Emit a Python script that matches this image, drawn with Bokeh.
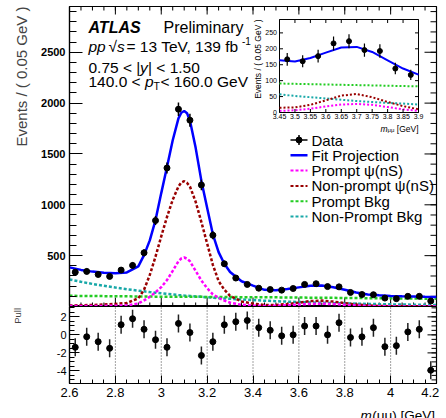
import numpy as np
from bokeh.plotting import figure
from bokeh.layouts import column
from bokeh.models import Range1d, FixedTicker, Title, Label
from bokeh.core.properties import value
from bokeh.embed import file_html
from bokeh.resources import INLINE

# ------------------------------------------------------------------ data
bin_centers = [2.625, 2.675, 2.725, 2.775, 2.825, 2.875, 2.925, 2.975,
               3.025, 3.075, 3.125, 3.175, 3.225, 3.275, 3.325, 3.375,
               3.425, 3.475, 3.525, 3.575, 3.625, 3.675, 3.725, 3.775,
               3.825, 3.875, 3.925, 3.975, 4.025, 4.075, 4.125, 4.175]
counts = [338, 345, 315, 296, 358, 404, 528, 845,
          1362, 1940, 1832, 1195, 701, 420, 280, 217,
          180, 167, 161, 177, 217, 224, 196, 193,
          138, 118, 116, 83, 77, 100, 100, 54]
count_errors = [27, 28, 27, 26, 28, 30, 34, 44,
                55, 66, 64, 52, 40, 31, 25, 22,
                20, 20, 19, 20, 22, 22, 21, 21,
                18, 16, 16, 14, 13, 15, 15, 11]
pulls = [-1.38, -0.21, -0.76, -1.49, 1.13, 1.79, 0.62, -0.54,
         -1.38, 1.27, 0.26, -2.29, -0.76, 1.12, 1.46, 1.60,
         0.80, 0.51, -0.11, 0.00, 0.98, 0.98, 0.00, 1.35,
         -0.29, -0.22, 0.80, -1.31, -1.20, 0.33, 0.62, -3.93]
pull_errors = [1.0] * 32

curve_x = [2.60, 2.65, 2.70, 2.75, 2.80, 2.85, 2.90, 2.925, 2.95, 2.975,
           3.00, 3.025, 3.05, 3.075, 3.0875, 3.10, 3.1125, 3.125, 3.15, 3.175,
           3.20, 3.225, 3.25, 3.275, 3.30, 3.35, 3.40, 3.45, 3.50, 3.55,
           3.60, 3.65, 3.70, 3.75, 3.80, 3.85, 3.90, 3.95, 4.00, 4.05,
           4.10, 4.15, 4.20]
fit_total = [385, 360, 343, 332, 327, 335, 395, 505, 650, 850,
             1115, 1371, 1635, 1850, 1905, 1922, 1900, 1828, 1560, 1235,
             970, 710, 535, 420, 340, 248, 205, 164, 160, 171,
             188, 204, 206, 190, 164, 138, 119, 110, 104, 100,
             98, 95, 93]
prompt_psi = [4, 4, 5, 6, 8, 11, 30, 60, 95, 140,
              190, 260, 350, 445, 472, 482, 470, 445, 350, 255,
              180, 120, 85, 58, 38, 17, 9, 5, 7, 12,
              19, 25, 27, 24, 17, 10, 5, 2, 1, 1,
              1, 1, 1]
nonprompt_psi = [10, 12, 15, 20, 25, 35, 80, 165, 310, 490,
                 690, 880, 1050, 1180, 1220, 1232, 1215, 1180, 1030, 830,
                 620, 410, 250, 165, 105, 50, 28, 15, 16, 24,
                 38, 53, 58, 48, 33, 20, 10, 5, 3, 2,
                 2, 1, 1]
prompt_bkg = [105, 104, 103, 102, 101, 100, 99, 98, 98, 97,
              97, 97, 96, 96, 96, 96, 95, 95, 95, 95,
              94, 94, 94, 93, 93, 92, 92, 91, 90, 89,
              88, 87, 86, 85, 84, 83, 82, 81, 80, 79,
              78, 77, 76]
nonprompt_bkg = [266, 243, 222, 203, 186, 170, 155, 149, 142, 136,
                 130, 124, 119, 113, 111, 108, 106, 104, 99, 95,
                 91, 87, 83, 79, 76, 69, 63, 57, 52, 48,
                 44, 40, 36, 33, 30, 28, 25, 23, 21, 19,
                 18, 16, 15]

x_ticks = [2.6, 2.8, 3.0, 3.2, 3.4, 3.6, 3.8, 4.0, 4.2]
x_tick_labels = ["2.6", "2.8", "3", "3.2", "3.4", "3.6", "3.8", "4", "4.2"]
main_y_ticks = [500, 1000, 1500, 2000, 2500]
pull_y_ticks = [-4, -2, 0, 2]
pull_y_labels = ["-4", "-2", "0", "2"]
inset_x_ticks = [3.45, 3.5, 3.55, 3.6, 3.65, 3.7, 3.75, 3.8, 3.85, 3.9]
inset_x_labels = ["3.45", "3.5", "3.55", "3.6", "3.65", "3.7", "3.75", "3.8", "3.85", "3.9"]
inset_y_ticks = [0, 50, 100, 150, 200, 250]
inset_y_labels = ["0", "50", "100", "150", "200", "250"]

series_labels = ["Data", "Fit Projection", "Prompt \u03c8(nS)",
                 "Non-prompt \u03c8(nS)", "Prompt Bkg", "Non-Prompt Bkg"]

# ------------------------------------------------------------------ style / layout
FONT = "Liberation Sans"
C_FIT = "#0000ff"
C_PPSI = "#ff00ff"
C_NPSI = "#990000"
C_PBKG = "#22cc22"
C_NBKG = "#18a8a8"
DASH = "3 2"

W = 446
LEFT, RIGHT = 69, 10
FRAME_W = W - LEFT - RIGHT          # 367
TOP = 6
MAIN_H = 300
PULL_H = 77
PULL_AXIS = 19
STRIP_H = 418 - (TOP + MAIN_H) - (PULL_H + PULL_AXIS)

X0, X1 = 2.6, 4.2
Y0, Y1 = 0, 2950
PY0, PY1 = -5.4, 3.15

FL, FT = LEFT, TOP + 1      # reference frame top sits at y = 7


def rx(px):
    return X0 + (px - FL) * (X1 - X0) / FRAME_W


def ry(py):
    return Y0 + (FT + MAIN_H - py) * (Y1 - Y0) / MAIN_H


def style_axis(ax, major_in, minor_in, size="11px", bold=False, standoff=3):
    ax.major_tick_in = major_in
    ax.major_tick_out = 0
    ax.minor_tick_in = minor_in
    ax.minor_tick_out = 0
    ax.axis_line_color = "black"
    ax.axis_line_width = 1.2
    ax.major_tick_line_color = "black"
    ax.minor_tick_line_color = "black"
    ax.major_tick_line_width = 1
    ax.minor_tick_line_width = 1
    ax.major_label_text_font = FONT
    ax.major_label_text_font_size = size
    ax.major_label_text_font_style = "bold" if bold else "normal"
    ax.major_label_text_color = "black"
    ax.major_label_standoff = standoff


def side_ticks(fig, where, ticks, minor, major_len, minor_len, ux, uy, lo, hi):
    """inward tick marks on a side of the frame that carries no labels"""
    for vals, ln in ((ticks, major_len), (minor, minor_len)):
        v = np.array(vals, dtype=float)
        n = len(v)
        if where == "top":
            fig.segment(x0=v, y0=np.full(n, hi), x1=v, y1=np.full(n, hi - ln * uy),
                        line_color="black", line_width=1)
        elif where == "bottom":
            fig.segment(x0=v, y0=np.full(n, lo), x1=v, y1=np.full(n, lo + ln * uy),
                        line_color="black", line_width=1)
        elif where == "right":
            fig.segment(x0=np.full(n, hi), y0=v, x1=np.full(n, hi - ln * ux), y1=v,
                        line_color="black", line_width=1)


x_minor = [round(v, 3) for v in np.arange(2.6, 4.2001, 0.05)]
main_y_minor = list(range(100, 2950, 100))
pull_y_minor = [round(v, 2) for v in np.arange(-5.0, 3.01, 0.5)]

xr = Range1d(X0, X1)

# ------------------------------------------------------------------ main panel
p = figure(width=W, height=TOP + MAIN_H, x_range=xr, y_range=Range1d(Y0, Y1),
           output_backend="svg", toolbar_location=None, x_axis_location=None,
           min_border_left=LEFT, min_border_right=RIGHT,
           min_border_top=TOP, min_border_bottom=0)
p.outline_line_color = "black"
p.outline_line_width = 1.2
p.grid.visible = False
p.background_fill_color = "white"
p.border_fill_color = "white"

p.yaxis.ticker = FixedTicker(ticks=main_y_ticks, minor_ticks=main_y_minor)
style_axis(p.yaxis[0], 13, 7, size="11px", bold=True, standoff=4)

mux = (X1 - X0) / FRAME_W
muy = (Y1 - Y0) / MAIN_H
side_ticks(p, "bottom", x_ticks, x_minor, 9, 4, mux, muy, Y0, Y1)
side_ticks(p, "top", x_ticks, x_minor, 8, 4, mux, muy, Y0, Y1)
side_ticks(p, "right", main_y_ticks, main_y_minor, 12, 6, mux, muy, X0, X1)

p.add_layout(Title(text="Events / ( 0.05 GeV )", align="right",
                   text_font=FONT, text_font_size="15px", text_font_style="normal",
                   standoff=18, offset=0), "left")

p.line(curve_x, nonprompt_bkg, line_color=C_NBKG, line_width=2.5, line_dash=DASH)
p.line(curve_x, prompt_bkg, line_color=C_PBKG, line_width=2.5, line_dash=DASH)
p.line(curve_x, nonprompt_psi, line_color=C_NPSI, line_width=2.5, line_dash=DASH)
p.line(curve_x, prompt_psi, line_color=C_PPSI, line_width=2.5, line_dash=DASH)
p.line(curve_x, fit_total, line_color=C_FIT, line_width=2.5)

cnt = np.array(counts, dtype=float)
err = np.array(count_errors, dtype=float)
p.segment(x0=bin_centers, y0=cnt - err, x1=bin_centers, y1=cnt + err,
          line_color="black", line_width=1.5)
p.scatter(bin_centers, counts, size=6, color="black")

# ---- inset drawn with extra ranges inside the main frame
INX0, INX1 = 3.45, 3.9
INY0, INY1 = 0, 292
IN_L, IN_R, IN_T, IN_B = 279.0, 418.0, 20.0, 113.0   # inset frame, reference pixels
fxl = (IN_L - FL) / FRAME_W
fxr = (IN_R - FL) / FRAME_W
fyb = (FT + MAIN_H - IN_B) / MAIN_H
fyt = (FT + MAIN_H - IN_T) / MAIN_H
sx = (INX1 - INX0) / (fxr - fxl)
sy = (INY1 - INY0) / (fyt - fyb)
p.extra_x_ranges = {"ix": Range1d(INX0 - fxl * sx, INX0 - fxl * sx + sx)}
p.extra_y_ranges = {"iy": Range1d(INY0 - fyb * sy, INY0 - fyb * sy + sy)}
ux = sx / FRAME_W
uy = sy / MAIN_H
IR = dict(x_range_name="ix", y_range_name="iy")

p.quad(left=[INX0], right=[INX1], bottom=[INY0], top=[INY1],
       fill_color="white", line_color="black", line_width=1, **IR)

cx = np.array(curve_x)
m = (cx >= INX0 - 1e-9) & (cx <= INX1 + 1e-9)
for arr, col in [(nonprompt_bkg, C_NBKG), (prompt_bkg, C_PBKG),
                 (nonprompt_psi, C_NPSI), (prompt_psi, C_PPSI)]:
    p.line(cx[m], np.array(arr)[m], line_color=col, line_width=2, line_dash="2 2", **IR)
p.line(cx[m], np.array(fit_total)[m], line_color=C_FIT, line_width=2, **IR)

bc = np.array(bin_centers)
mi = (bc > INX0) & (bc < INX1)
p.segment(x0=bc[mi], y0=(cnt - err)[mi], x1=bc[mi], y1=(cnt + err)[mi],
          line_color="black", line_width=1.2, **IR)
p.scatter(bc[mi], cnt[mi], size=5, color="black", **IR)

ixt = np.array(inset_x_ticks)
iyt = np.array(inset_y_ticks, dtype=float)
nx, ny = len(ixt), len(iyt)
p.segment(x0=ixt, y0=np.full(nx, INY0), x1=ixt, y1=np.full(nx, INY0 + 3.5 * uy),
          line_color="black", line_width=1, **IR)
p.segment(x0=ixt, y0=np.full(nx, INY1), x1=ixt, y1=np.full(nx, INY1 - 3.5 * uy),
          line_color="black", line_width=1, **IR)
p.segment(x0=np.full(ny, INX0), y0=iyt, x1=np.full(ny, INX0 + 3.5 * ux), y1=iyt,
          line_color="black", line_width=1, **IR)
p.segment(x0=np.full(ny, INX1), y0=iyt, x1=np.full(ny, INX1 - 3.5 * ux), y1=iyt,
          line_color="black", line_width=1, **IR)
p.text(x=ixt, y=np.full(nx, INY0 - 1.5 * uy), text=inset_x_labels,
       text_font=value(FONT), text_font_size="7px", text_align="center",
       text_baseline="top", text_color="black", **IR)
p.text(x=np.full(ny, INX0 - 2.5 * ux), y=iyt, text=inset_y_labels,
       text_font=value(FONT), text_font_size="7px", text_align="right",
       text_baseline="middle", text_color="black", **IR)
p.text(x=[INX0 - 22 * ux], y=[INY1], text=["Events / ( 0.05 GeV )"], angle=np.pi / 2,
       text_font=value(FONT), text_font_size="8.5px", text_align="right",
       text_baseline="middle", text_color="black", **IR)
p.text(x=[INX1], y=[INY0 - 16 * uy], text=["[GeV]"],
       text_font=value(FONT), text_font_size="8.5px", text_align="right",
       text_baseline="alphabetic", text_color="black", **IR)
p.text(x=[INX1 - 24 * ux], y=[INY0 - 17.5 * uy], text=["\u03bc\u03bc"],
       text_font=value(FONT), text_font_size="6px", text_align="right",
       text_baseline="alphabetic", text_color="black", **IR)
p.text(x=[INX1 - 31 * ux], y=[INY0 - 16 * uy], text=["m"],
       text_font=value(FONT), text_font_size="8.5px", text_font_style="italic",
       text_align="right", text_baseline="alphabetic", text_color="black", **IR)


def lab(fig, x, y, text, size, style="normal", align="left"):
    fig.add_layout(Label(x=x, y=y, text=text, text_font=FONT, text_font_size=size,
                         text_font_style=style, text_align=align,
                         text_baseline="alphabetic", text_color="black"))


lab(p, rx(88), ry(28), "ATLAS", "16px", "bold italic")
lab(p, rx(163), ry(28), "Preliminary", "16px")
lab(p, rx(88), ry(47), "pp", "15.5px", "italic")
lab(p, rx(108), ry(47), "\u221a", "15.5px")
lab(p, rx(116.5), ry(47), "s", "15.5px", "italic")
lab(p, rx(126), ry(47), "= 13 TeV, 139 fb", "15.5px")
lab(p, rx(241.5), ry(41), "-1", "10px")
lab(p, rx(88), ry(68), "0.75 < |", "15.5px")
lab(p, rx(139.5), ry(68), "y", "15.5px", "italic")
lab(p, rx(147.5), ry(68), "| < 1.50", "15.5px")
lab(p, rx(88), ry(82), "140.0 < ", "15.5px")
lab(p, rx(144.5), ry(82), "p", "15.5px", "italic")
lab(p, rx(153), ry(86), "T", "10.5px")
lab(p, rx(160), ry(82), " < 160.0 GeV", "15.5px")

# ---- legend rows
ROW0, ROWSTEP = 140.5, 15.3
rows = [ry(ROW0 + i * ROWSTEP) for i in range(len(series_labels))]
gx0, gx1, tx = rx(290), rx(307), rx(311)
gxm = 0.5 * (gx0 + gx1)
p.segment(x0=[gx0], y0=[rows[0]], x1=[gx1], y1=[rows[0]], line_color="black", line_width=1.5)
p.segment(x0=[gxm], y0=[rows[0] - 5 * muy], x1=[gxm], y1=[rows[0] + 5 * muy],
          line_color="black", line_width=1.5)
p.scatter([gxm], [rows[0]], size=6, color="black")
p.segment(x0=[gx0], y0=[rows[1]], x1=[gx1], y1=[rows[1]], line_color=C_FIT, line_width=2.5)
for i, col in zip(range(2, 6), [C_PPSI, C_NPSI, C_PBKG, C_NBKG]):
    p.segment(x0=[gx0], y0=[rows[i]], x1=[gx1], y1=[rows[i]], line_color=col,
              line_width=2, line_dash="3 2")
p.text(x=[tx] * len(series_labels), y=rows, text=series_labels, text_font=value(FONT),
       text_font_size="15px", text_align="left", text_baseline="middle", text_color="black")

# ------------------------------------------------------------------ pull panel
pp = figure(width=W, height=PULL_H + PULL_AXIS, x_range=xr, y_range=Range1d(PY0, PY1),
            output_backend="svg", toolbar_location=None,
            min_border_left=LEFT, min_border_right=RIGHT,
            min_border_top=0, min_border_bottom=PULL_AXIS)
pp.outline_line_color = "black"
pp.outline_line_width = 1.2
pp.background_fill_color = "white"
pp.border_fill_color = "white"
pp.grid.visible = False

shown_x_labels = x_tick_labels[:-1] + [x_tick_labels[-1] + "\u2007"]
pp.xaxis.ticker = FixedTicker(ticks=x_ticks, minor_ticks=x_minor)
pp.xaxis.major_label_overrides = dict(zip(x_ticks, shown_x_labels))
style_axis(pp.xaxis[0], 8, 4, size="13px", standoff=1)
pp.yaxis.ticker = FixedTicker(ticks=pull_y_ticks, minor_ticks=pull_y_minor)
pp.yaxis.major_label_overrides = dict(zip(pull_y_ticks, pull_y_labels))
style_axis(pp.yaxis[0], 10, 5, size="11px", standoff=3)
# centred axis title; leading figure spaces lift the visible word to the top end
pp.yaxis.axis_label = "\u2007" * 11 + "Pull"
pp.yaxis.axis_label_text_font = FONT
pp.yaxis.axis_label_text_font_size = "9.5px"
pp.yaxis.axis_label_text_font_style = "normal"
pp.yaxis.axis_label_standoff = 31
pux = (X1 - X0) / FRAME_W
puy = (PY1 - PY0) / PULL_H
side_ticks(pp, "right", pull_y_ticks, pull_y_minor, 9, 5, pux, puy, X0, X1)

gxs = np.array(x_ticks[1:-1])
pp.segment(x0=gxs, y0=np.full(len(gxs), PY0), x1=gxs, y1=np.full(len(gxs), PY1),
           line_color="#444444", line_width=1, line_dash="1 2")

pv = np.array(pulls)
pe = np.array(pull_errors)
pp.segment(x0=bin_centers, y0=pv - pe, x1=bin_centers, y1=pv + pe,
           line_color="#222222", line_width=1.5)
pp.scatter(bin_centers, pulls, size=6, color="black")

# ------------------------------------------------------------------ x-axis title strip
ps = figure(width=W, height=STRIP_H, x_range=xr, y_range=Range1d(0, STRIP_H),
            output_backend="svg", toolbar_location=None,
            x_axis_location=None, y_axis_location=None,
            min_border_left=LEFT, min_border_right=RIGHT,
            min_border_top=0, min_border_bottom=0)
ps.outline_line_color = None
ps.grid.visible = False
ps.background_fill_color = "white"
ps.border_fill_color = "white"
ps.text(x=[X1], y=[3.5], text=["(\u03bc\u03bc) [GeV]"], x_offset=-1.5, text_font=value(FONT),
        text_font_size="13.5px", text_align="right", text_baseline="alphabetic",
        text_color="black")
ps.text(x=[X1 - 63.3 * (X1 - X0) / FRAME_W], y=[3.5], text=["m"], x_offset=-1.5,
        text_font=value(FONT), text_font_size="13.5px", text_font_style="italic",
        text_align="right", text_baseline="alphabetic", text_color="black")

layout = column(p, pp, ps, spacing=0)
open("out.html", "w").write(file_html(layout, INLINE))
